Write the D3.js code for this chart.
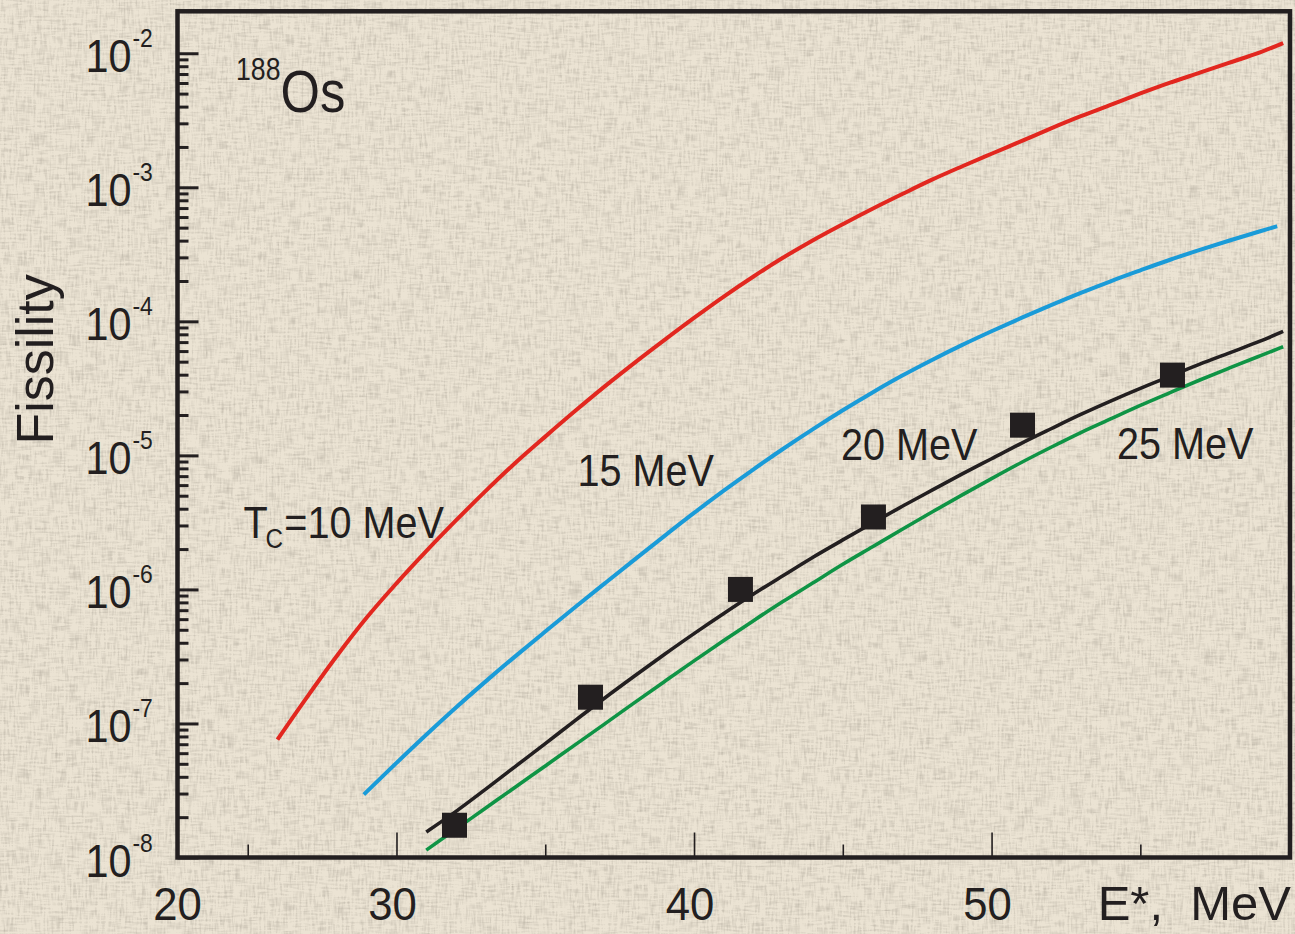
<!DOCTYPE html>
<html>
<head>
<meta charset="utf-8">
<script src="https://cdn.jsdelivr.net/npm/d3@7"></script>
<style>
  html, body { margin: 0; padding: 0; background: #e6dccb; }
  svg { display: block; }
  text { font-family: "Liberation Sans", Arial, Helvetica, sans-serif; fill: #231f20; white-space: pre; }
</style>
</head>
<body>
<svg id="chart" width="1295" height="934"></svg>
<script>
// ---- Calculated fissility of 188Os vs excitation energy E* (MeV) ----
// T_c = 10 MeV
const energyTc10 = [26.0, 27, 28, 29, 30, 31, 32, 33, 34, 35, 36, 37, 38, 39, 40, 41, 42, 43, 44, 45, 46, 47, 48, 49, 50, 51, 52, 53, 54, 55, 56, 57, 58, 59, 59.8];
const fissTc10   = [7.59e-8, 1.58e-7, 3.20e-7, 6.17e-7, 1.11e-6, 1.93e-6, 3.27e-6, 5.43e-6, 8.81e-6, 1.38e-5,
                    2.14e-5, 3.27e-5, 4.90e-5, 7.24e-5, 1.06e-4, 1.53e-4, 2.16e-4, 2.99e-4, 4.03e-4, 5.31e-4,
                    6.92e-4, 8.91e-4, 1.14e-3, 1.43e-3, 1.78e-3, 2.21e-3, 2.75e-3, 3.39e-3, 4.12e-3, 5.01e-3,
                    6.03e-3, 7.16e-3, 8.51e-3, 1.01e-2, 1.19e-2];
// T_c = 15 MeV
const energyTc15 = [28.9, 30, 31, 32, 33, 34, 35, 36, 37, 38, 39, 40, 41, 42, 43, 44, 45, 46, 47, 48, 49, 50, 51, 52, 53, 54, 55, 56, 57, 58, 59, 59.6];
const fissTc15   = [2.95e-8, 5.08e-8, 8.24e-8, 1.315e-7, 2.06e-7, 3.18e-7, 4.85e-7, 7.36e-7, 1.11e-6, 1.67e-6,
                    2.50e-6, 3.72e-6, 5.45e-6, 7.87e-6, 1.12e-5, 1.57e-5, 2.17e-5, 2.95e-5, 3.94e-5, 5.15e-5,
                    6.64e-5, 8.43e-5, 1.06e-4, 1.32e-4, 1.63e-4, 1.99e-4, 2.40e-4, 2.88e-4, 3.41e-4, 4.01e-4,
                    4.68e-4, 5.12e-4];
// T_c = 20 MeV
const energyTc20 = [31, 32, 33, 34, 35, 36, 37, 38, 39, 40, 41, 42, 43, 44, 45, 46, 47, 48, 49, 50, 51, 52, 53, 54, 55, 56, 57, 58, 59, 59.8];
const fissTc20   = [1.55e-8, 2.21e-8, 3.24e-8, 4.79e-8, 7.08e-8, 1.05e-7, 1.55e-7, 2.26e-7, 3.27e-7, 4.68e-7,
                    6.61e-7, 9.23e-7, 1.27e-6, 1.74e-6, 2.34e-6, 3.13e-6, 4.17e-6, 5.50e-6, 7.24e-6, 9.44e-6,
                    1.23e-5, 1.58e-5, 2.02e-5, 2.54e-5, 3.16e-5, 3.89e-5, 4.79e-5, 5.82e-5, 7.08e-5, 8.41e-5];
// T_c = 25 MeV
const energyTc25 = [31, 32, 33, 34, 35, 36, 37, 38, 39, 40, 41, 42, 43, 44, 45, 46, 47, 48, 49, 50, 51, 52, 53, 54, 55, 56, 57, 58, 59, 59.8];
const fissTc25   = [1.135e-8, 1.63e-8, 2.34e-8, 3.36e-8, 4.82e-8, 6.92e-8, 9.93e-8, 1.43e-7, 2.05e-7, 2.93e-7,
                    4.16e-7, 5.85e-7, 8.15e-7, 1.12e-6, 1.54e-6, 2.08e-6, 2.81e-6, 3.78e-6, 5.05e-6, 6.71e-6,
                    8.85e-6, 1.15e-5, 1.48e-5, 1.87e-5, 2.36e-5, 2.94e-5, 3.65e-5, 4.49e-5, 5.50e-5, 6.46e-5];

// Measured fissility
const expEnergy = [31.95, 36.52, 41.56, 46.03, 51.04, 56.08];
const expFiss   = [1.74e-8, 1.57e-7, 1.00e-6, 3.47e-6, 1.68e-5, 3.97e-5];

// Axis ticks and labels
const xMajorTicks = [30, 40, 50];
const xMinorTicks = [25, 35, 45, 55];
const xTickLabels = ["30", "40", "50"];
const xStartLabel = "20";
const yDecadeExponents = [-2, -3, -4, -5, -6, -7, -8];
const yMinorMultipliers = [2, 3, 4, 5, 6, 7, 8, 9];

// ---- layout ----
const svg = d3.select("#chart");
const W = 1295, H = 934;
const frame = { left: 177.5, right: 1290, top: 11.3, bottom: 857.5 };

const x = d3.scaleLinear().domain([22.64, 60.03]).range([frame.left, frame.right]);
const y = d3.scaleLog().domain([1e-8, Math.pow(10, -1.687)]).range([frame.bottom, frame.top]);

// ---- linen background ----
const defs = svg.append("defs");
const f = defs.append("filter").attr("id", "linen")
  .attr("x", 0).attr("y", 0).attr("width", W).attr("height", H)
  .attr("filterUnits", "userSpaceOnUse");
f.append("feTurbulence").attr("type", "fractalNoise").attr("baseFrequency", "0.06 0.5")
  .attr("numOctaves", 2).attr("seed", 3).attr("result", "h");
f.append("feTurbulence").attr("type", "fractalNoise").attr("baseFrequency", "0.5 0.06")
  .attr("numOctaves", 2).attr("seed", 11).attr("result", "v");
f.append("feComposite").attr("in", "h").attr("in2", "v").attr("operator", "arithmetic")
  .attr("k1", 0).attr("k2", 0.5).attr("k3", 0.5).attr("k4", 0).attr("result", "hv");
f.append("feColorMatrix").attr("in", "hv").attr("type", "matrix")
  .attr("values", "0 0 0 0 0.46  0 0 0 0 0.42  0 0 0 0 0.35  -1.8 0 0 0 1.02");

svg.append("rect").attr("width", W).attr("height", H).attr("fill", "#ebe3d3");
svg.append("rect").attr("width", W).attr("height", H).attr("filter", "url(#linen)");

// ---- curves ----
const line = d3.line().x(d => x(d[0])).y(d => y(d[1])).curve(d3.curveMonotoneX);
const series = [
  { e: energyTc10, f: fissTc10, color: "#e2271f", w: 4 },
  { e: energyTc15, f: fissTc15, color: "#1a9bd8", w: 4 },
  { e: energyTc25, f: fissTc25, color: "#0f9445", w: 3.6 },
  { e: energyTc20, f: fissTc20, color: "#231f20", w: 3.6 }
];
svg.append("g").selectAll("path").data(series).join("path")
  .attr("d", s => line(s.e.map((v, i) => [v, s.f[i]])))
  .attr("fill", "none")
  .attr("stroke", s => s.color)
  .attr("stroke-width", s => s.w);

// ---- measured points ----
const sq = 25;
svg.append("g").selectAll("rect").data(expEnergy.map((v, i) => [v, expFiss[i]])).join("rect")
  .attr("x", d => x(d[0]) - sq / 2)
  .attr("y", d => y(d[1]) - sq / 2)
  .attr("width", sq).attr("height", sq)
  .attr("fill", "#231f20");

// ---- ticks ----
const yMajorVals = yDecadeExponents.map(e => Math.pow(10, e));
const yMinorVals = [];
yDecadeExponents.filter(e => e < -2).forEach(e => yMinorMultipliers.forEach(m => yMinorVals.push(m * Math.pow(10, e))));

function styleAxis(g, width) {
  g.select(".domain").remove();
  g.selectAll(".tick line").attr("stroke", "#231f20").attr("stroke-width", width);
  g.selectAll(".tick text").remove();
}
svg.append("g").attr("transform", `translate(${frame.left},0)`)
  .call(d3.axisLeft(y).tickValues(yMinorVals).tickSize(-11).tickFormat(""))
  .call(g => styleAxis(g, 3));
svg.append("g").attr("transform", `translate(${frame.left},0)`)
  .call(d3.axisLeft(y).tickValues(yMajorVals).tickSize(-21).tickFormat(""))
  .call(g => styleAxis(g, 3));
svg.append("g").attr("transform", `translate(0,${frame.bottom})`)
  .call(d3.axisBottom(x).tickValues(xMinorTicks).tickSize(-13).tickFormat(""))
  .call(g => styleAxis(g, 1.6));
svg.append("g").attr("transform", `translate(0,${frame.bottom})`)
  .call(d3.axisBottom(x).tickValues(xMajorTicks).tickSize(-25).tickFormat(""))
  .call(g => styleAxis(g, 1.6));

// ---- frame ----
svg.append("rect")
  .attr("x", frame.left).attr("y", frame.top)
  .attr("width", frame.right - frame.left).attr("height", frame.bottom - frame.top)
  .attr("fill", "none").attr("stroke", "#231f20").attr("stroke-width", 4.5);

// ---- text helper: horizontally condensed text ----
function txt(xp, yp, str, size, sx, anchor) {
  return svg.append("text")
    .attr("transform", `translate(${xp},${yp}) scale(${sx},1)`)
    .attr("font-size", size)
    .attr("text-anchor", anchor || "start")
    .text(str);
}

// y tick labels: 10^k
yDecadeExponents.forEach(e => {
  const yy = y(Math.pow(10, e));
  txt(131.5, yy + 19, "10", 47, 0.88, "end");
  txt(132.5, yy - 6, "-" + Math.abs(e), 26, 0.88, "start");
});

// x tick labels
xMajorTicks.forEach((v, i) => txt(x(v) - 4, 920, xTickLabels[i], 46, 0.95, "middle"));
txt(x.range()[0], 920, xStartLabel, 46, 0.95, "middle");

// axis titles
txt(1291, 920, "E*,  MeV", 49, 1, "end");
svg.append("text")
  .attr("transform", `translate(53,${(frame.top + frame.bottom) / 2 - 75}) rotate(-90)`)
  .attr("font-size", 52).attr("text-anchor", "middle").text("Fissility");

// nucleus label
const nuc = txt(236, 112, "", 59, 0.86);
nuc.append("tspan").attr("font-size", 31).attr("dy", -32).text("188");
nuc.append("tspan").attr("dy", 32).attr("dx", 0).text("Os");

// curve annotations
const tc = txt(243.5, 538, "", 44, 0.9);
tc.append("tspan").text("T");
tc.append("tspan").attr("font-size", 27).attr("dx", -2.5).attr("dy", 10).text("C");
tc.append("tspan").attr("dx", 1.5).attr("dy", -10).text("=10 MeV");
txt(577.5, 486, "15 MeV", 44, 0.9);
txt(841, 460, "20 MeV", 44, 0.9);
txt(1117, 459, "25 MeV", 44, 0.9);
</script>
</body>
</html>
